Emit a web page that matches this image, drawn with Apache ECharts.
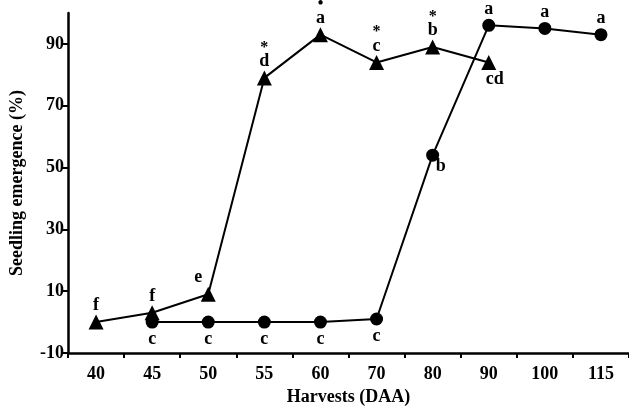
<!DOCTYPE html>
<html><head><meta charset="utf-8">
<script src="https://cdn.jsdelivr.net/npm/echarts@6/dist/echarts.min.js"></script>
<style>html,body{margin:0;padding:0;background:#fff}#c{width:629px;height:417px}</style>
</head><body><div id="c"></div>
<script>
const categories = ['40','45','50','55','60','70','80','90','100','115'];
const triValues = [0, 3, 9, 79, 93, 84, 89, 84, null, null];
const triLetters = ['f','f','e','d','a','c','b','cd', '', ''];
const triMarks = ['', '', '', '*', '•', '*', '*', '', '', ''];
const circValues = [null, 0, 0, 0, 0, 1, 54, 96, 95, 93];
const circLetters = ['', 'c','c','c','c','c','b','a','a','a'];
const yTicks = [-10, 10, 30, 50, 70, 90];

const font = 'Liberation Serif';
const chart = echarts.init(document.getElementById('c'));

function triData() {
  return triValues.map((v, i) => {
    if (v === null) return null;
    const item = { value: v };
    let lbl = { show: true, position: 'top', distance: 1 };
    if (triLetters[i] === 'cd') { lbl = { show: true, position: 'bottom', distance: 1, offset: [6, 0] }; }
    if (i === 2) { lbl.offset = [-10, 0]; }
    lbl.formatter = triMarks[i] ? '{m|' + triMarks[i] + '}\n{l|' + triLetters[i] + '}' : '{l|' + triLetters[i] + '}';
    item.label = lbl;
    return item;
  });
}
function circData() {
  return circValues.map((v, i) => {
    if (v === null) return null;
    const item = { value: v };
    let lbl = { show: true, position: 'bottom', distance: 3, formatter: '{l|' + circLetters[i] + '}' };
    if (circLetters[i] === 'a') { lbl.position = 'top'; lbl.distance = 2; }
    if (i === 6) { lbl.offset = [8, -6]; }
    item.label = lbl;
    return item;
  });
}
const rich = {
  m: { fontFamily: font, fontWeight: 'bold', fontSize: 16, color: '#000', lineHeight: 12 },
  l: { fontFamily: font, fontWeight: 'bold', fontSize: 18, color: '#000', lineHeight: 16 }
};

chart.setOption({
  animation: false,
  grid: { left: 66, right: -8, top: 13, bottom: 64 },
  xAxis: {
    type: 'category', data: categories, boundaryGap: true,
    name: 'Harvests (DAA)', nameLocation: 'middle', nameGap: 33,
    nameTextStyle: { fontFamily: font, fontWeight: 'bold', fontSize: 18, color: '#000' },
    axisLine: { onZero: false, lineStyle: { color: '#000', width: 2.5 } },
    axisTick: { show: true, length: 5, lineStyle: { color: '#000', width: 2 }, alignWithLabel: false },
    axisLabel: { fontFamily: font, fontWeight: 'bold', fontSize: 18, color: '#000', margin: 12 },
    splitLine: { show: false }
  },
  yAxis: {
    type: 'value', min: -10, max: 100,
    name: 'Seedling emergence (%)', nameLocation: 'middle', nameGap: 42, nameRotate: 90,
    nameTextStyle: { fontFamily: font, fontWeight: 'bold', fontSize: 18, color: '#000' },
    axisLine: { show: true, onZero: false, lineStyle: { color: '#000', width: 2.5 } },
    axisTick: { show: true, length: 6, lineStyle: { color: '#000', width: 2 }, customValues: yTicks },
    axisLabel: { fontFamily: font, fontWeight: 'bold', fontSize: 18, color: '#000', margin: 4, customValues: yTicks },
    splitLine: { show: false }
  },
  series: [
    {
      type: 'line', data: triData(), symbol: 'triangle', symbolSize: 15,
      connectNulls: false,
      lineStyle: { color: '#000', width: 2 }, itemStyle: { color: '#000' },
      label: { rich: rich, color: '#000' }
    },
    {
      type: 'line', data: circData(), symbol: 'circle', symbolSize: 13,
      lineStyle: { color: '#000', width: 2 }, itemStyle: { color: '#000' },
      label: { rich: rich, color: '#000' }
    }
  ]
});
</script></body></html>
